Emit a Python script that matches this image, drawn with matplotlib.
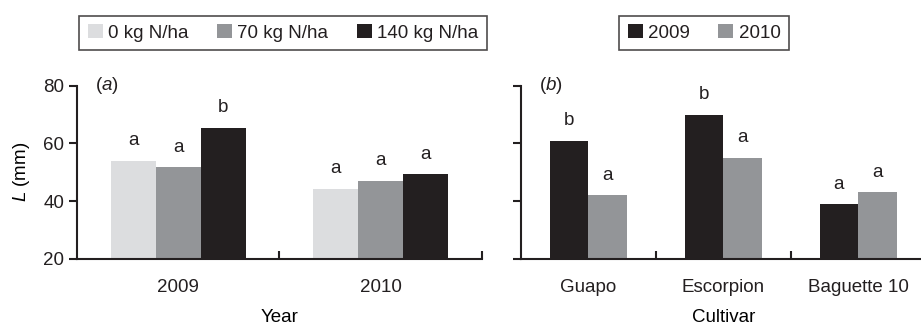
import numpy as np
import matplotlib.pyplot as plt

# (a) fruit length by year and N rate
years = ['2009', '2010']
n_rates = ['0 kg N/ha', '70 kg N/ha', '140 kg N/ha']
len_by_rate = [[54.0, 44.3], [51.7, 47.0], [65.4, 49.3]]
letters_by_rate = [['a', 'a'], ['a', 'a'], ['b', 'a']]

# (b) fruit length by cultivar and year
cultivars = ['Guapo', 'Escorpion', 'Baguette 10']
seasons = ['2009', '2010']
len_by_year = [[61.0, 70.0, 38.9], [42.0, 55.0, 43.0]]
letters_by_year = [['b', 'b', 'a'], ['a', 'a', 'a']]

ink = '#231f20'
rate_colors = ['#dcdddf', '#939598', ink]
year_colors = [ink, '#939598']

plt.rcParams['font.family'] = 'Liberation Sans'
plt.rcParams['mathtext.fontset'] = 'custom'
plt.rcParams['mathtext.it'] = 'Liberation Sans:italic'
plt.rcParams['mathtext.rm'] = 'Liberation Sans'
plt.rcParams['text.color'] = ink
plt.rcParams['axes.edgecolor'] = ink
plt.rcParams['xtick.color'] = ink
plt.rcParams['ytick.color'] = ink
fs = 13.5

fig = plt.figure(figsize=(9.21, 3.25), dpi=100)
ax1 = fig.add_axes([0.0836, 0.2046, 0.4397, 0.5308])
ax2 = fig.add_axes([0.5654, 0.2046, 0.4397, 0.5308])


def style_axes(ax, n):
    ax.set_ylim(20, 80)
    ax.set_xlim(-0.5, n - 0.5)
    ax.spines['top'].set_visible(False)
    ax.spines['right'].set_visible(False)
    ax.spines['left'].set_linewidth(1.5)
    ax.spines['bottom'].set_linewidth(1.5)
    ax.set_yticks([20, 40, 60, 80])
    ax.tick_params(axis='y', direction='out', length=6, width=1.5, labelsize=fs, pad=3)
    # category labels at centers, boundary ticks pointing inward
    ax.set_xticks(np.arange(n))
    ax.tick_params(axis='x', which='major', length=0, labelsize=fs, pad=15)
    ax.set_xticks(np.arange(n) + 0.5, minor=True)
    ax.tick_params(axis='x', which='minor', direction='in', length=6, width=1.5)


# panel a
w = 0.222
x = np.arange(len(years))
handles1 = []
for i, (vals, labs) in enumerate(zip(len_by_rate, letters_by_rate)):
    pos = x + (i - 1) * w
    b = ax1.bar(pos, vals, w, bottom=0, color=rate_colors[i], label=n_rates[i])
    handles1.append(b)
    for p, v, t in zip(pos, vals, labs):
        ax1.text(p, v + 7, t, ha='center', va='center', fontsize=fs)
style_axes(ax1, len(years))
ax1.set_xticklabels(years)
ax1.set_xlabel('Year', fontsize=fs, labelpad=9)
ax1.set_ylabel(r'$\it{L}$ (mm)', fontsize=fs, labelpad=8)
ax1.text(0.045, 1.0, r'($\it{a}$)', transform=ax1.transAxes, fontsize=fs, va='center')

# panel b
w2 = 0.285
x2 = np.arange(len(cultivars))
handles2 = []
for i, (vals, labs) in enumerate(zip(len_by_year, letters_by_year)):
    pos = x2 + (i - 0.5) * w2
    b = ax2.bar(pos, vals, w2, bottom=0, color=year_colors[i], label=seasons[i])
    handles2.append(b)
    for p, v, t in zip(pos, vals, labs):
        ax2.text(p, v + 7, t, ha='center', va='center', fontsize=fs)
style_axes(ax2, len(cultivars))
ax2.set_yticklabels([])
ax2.set_xticklabels(cultivars)
ax2.set_xlabel('Cultivar', fontsize=fs, labelpad=9)
ax2.text(0.045, 1.0, r'($\it{b}$)', transform=ax2.transAxes, fontsize=fs, va='center')

leg_kw = dict(ncol=3, frameon=True, fancybox=False, fontsize=fs, handlelength=0.8,
              handleheight=0.8, handletextpad=0.3, columnspacing=1.5,
              borderpad=0.45, edgecolor=ink)
leg1 = fig.legend(handles=handles1, loc='center', bbox_to_anchor=(0.3073, 0.8985), **leg_kw)
leg1.get_frame().set_linewidth(1.2)
leg_kw['ncol'] = 2
leg2 = fig.legend(handles=handles2, loc='center', bbox_to_anchor=(0.7646, 0.8985), **leg_kw)
leg2.get_frame().set_linewidth(1.2)

fig.savefig('out.png', dpi=100)
